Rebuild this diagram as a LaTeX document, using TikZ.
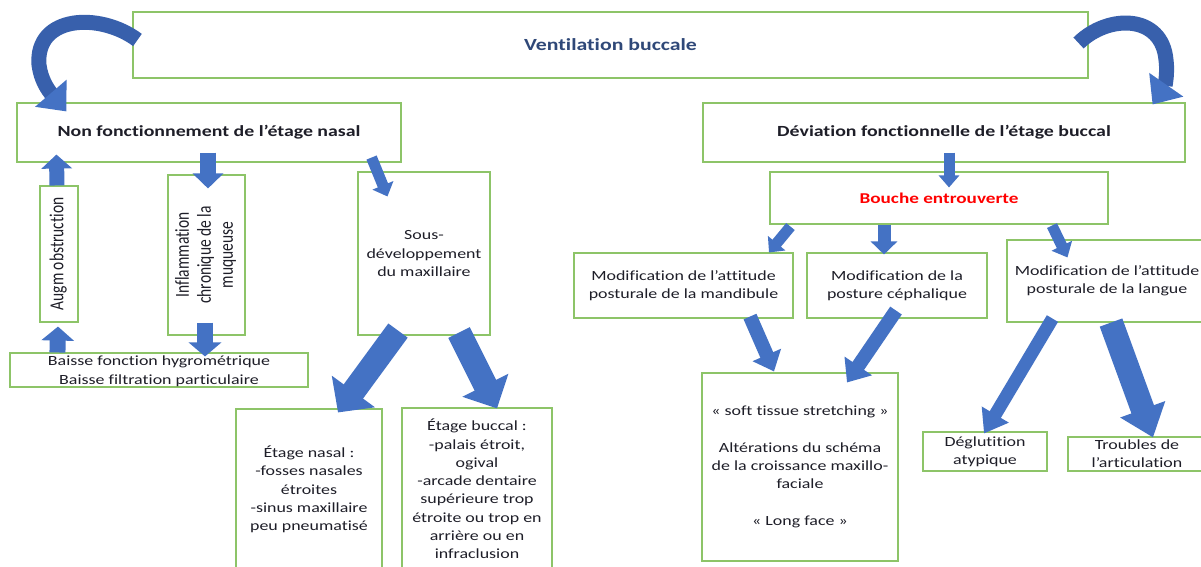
\documentclass[tikz,border=0pt]{standalone}
\usepackage{fontspec}
\setmainfont{Carlito}[FakeStretch=1.28,Ligatures=NoCommon]
\newfontfamily\rotfont{Carlito}[Ligatures=NoCommon]
\usepackage{graphicx}
\usetikzlibrary{arrows.meta,calc}
\definecolor{boxgreen}{RGB}{141,196,104}
\definecolor{arrowblue}{RGB}{68,114,196}
\definecolor{arrowmid}{RGB}{56,96,172}
\definecolor{txt}{RGB}{30,30,40}
\definecolor{titleblue}{RGB}{47,72,120}
\definecolor{redtxt}{RGB}{255,0,0}
\newcommand{\rottext}[1]{\scalebox{1.28}[1]{\rotatebox{90}{\rotfont\fontsize{15.5}{17.2}\selectfont\begin{tabular}{@{}c@{}}#1\end{tabular}}}}
\tikzset{
  box/.style={draw=boxgreen, line width=1.1pt, inner sep=0pt, align=center,
    font=\fontsize{14}{18.3}\selectfont, text=txt},
  bold/.style={font=\fontsize{15.5}{18}\selectfont\bfseries},
  blk/.style args={#1/#2/#3}{draw=arrowblue, line width=#1,
    -{Triangle[width=#2,length=#3]}},
  curv/.style={draw=arrowmid, line width=15pt,
    -{Triangle[width=40pt,length=24pt,color=arrowblue]}}
}
\begin{document}
\begin{tikzpicture}[x=1pt,y=-1pt]
\clip (0,0) rectangle (1201,566);
\fill[white] (0,0) rectangle (1201,566);
% nodes
\node[box, minimum width=955pt, minimum height=66pt, font=\fontsize{17}{18}\selectfont\bfseries, text=titleblue] (vb) at (610.5,45) {Ventilation buccale};
\node[box, bold, minimum width=384pt, minimum height=59pt] (nf) at (209,132.5) {Non fonctionnement de l’étage nasal};
\node[box, bold, minimum width=482pt, minimum height=59pt] (df) at (944,132.5) {Déviation fonctionnelle de l’étage buccal};
\node[box, minimum width=38pt, minimum height=136pt] (ao) at (59,254) {\rottext{Augm obstruction}};
\node[box, minimum width=77pt, minimum height=160pt] (inf) at (206.5,255) {\rottext{Inflammation\\chronique de la\\muqueuse}};
\node[box, minimum width=298pt, minimum height=34pt] (bs) at (159,370) {\raisebox{-5pt}[0pt][0pt]{\begin{tabular}{@{}c@{}}Baisse fonction hygrométrique\\Baisse filtration particulaire\end{tabular}}};
\node[box, minimum width=132pt, minimum height=163pt] (sd) at (424,253.5) {Sous-\\développement\\du maxillaire};
\node[box, minimum width=146pt, minimum height=161pt] (en) at (309,489.5) {Étage nasal :\\-fosses nasales\\étroites\\-sinus maxillaire\\peu pneumatisé};
\node[box, minimum width=150pt, minimum height=162pt] (eb) at (477,489) {Étage buccal :\\-palais étroit,\\ogival\\-arcade dentaire\\supérieure trop\\étroite ou trop en\\arrière ou en\\infraclusion};
\node[box, minimum width=338pt, minimum height=52pt, font=\fontsize{15}{18}\selectfont\bfseries, text=redtxt] (bo) at (939,198) {Bouche entrouverte};
\node[box, minimum width=219pt, minimum height=65pt] (mm) at (683.5,285.5) {Modification de l’attitude\\posturale de la mandibule};
\node[box, minimum width=180pt, minimum height=65pt] (mc) at (897,285.5) {Modification de la\\posture céphalique};
\node[box, minimum width=200pt, minimum height=82pt] (ml) at (1107,281) {Modification de l’attitude\\posturale de la langue};
\node[box, minimum width=196pt, minimum height=188pt] (st) at (800,467) {« soft tissue stretching »\\[18.3pt]Altérations du schéma\\de la croissance maxillo-\\faciale\\[18.3pt]« Long face »};
\node[box, minimum width=124pt, minimum height=39pt] (dg) at (985,451.5) {Déglutition\\atypique};
\node[box, minimum width=138pt, minimum height=34pt] (tr) at (1137,454) {Troubles de\\l’articulation};
% curved arrows
\draw[curv] ($(vb.west)+(5,-5)$) .. controls (100,12) and (35,15) .. (39,65) .. controls (41,80) and (48,90) .. ($(nf.north west)+(50,9)$);
\draw[curv] ($(vb.east)+(-10,-2)$) .. controls (1108,14) and (1162,14) .. (1166,60) .. controls (1168,76) and (1164,88) .. ($(df.north east)+(-33,2)$);
% straight block arrows
\draw[blk=15pt/30pt/14pt] (ao.north -| 57,0) -- ($(nf.south west)+(40,-8)$);
\draw[blk=16pt/32pt/14pt] ($(bs.north west)+(48,0)$) -- ($(ao.south)+(-1,4)$);
\draw[blk=16pt/30pt/15pt] ($(nf.south)+(-1,-10)$) -- ($(inf.north)+(1.5,14)$);
\draw[blk=16pt/32pt/14pt] ($(inf.south)+(-1.5,-13)$) -- ($(bs.north)+(46,4)$);
\draw[blk=11pt/22pt/12pt] ($(nf.south east)+(-30,-5)$) -- ($(sd.north west)+(30,25)$);
\draw[blk=24pt/52pt/26pt] ($(sd.south)+(-26,-5)$) -- ($(en.north)+(29,4)$);
\draw[blk=24pt/50pt/26pt] ($(sd.south)+(35,-3)$) -- ($(eb.north)+(20,1)$);
\draw[blk=11pt/20pt/12pt] ($(df.south)+(5,-10)$) -- ($(bo.north)+(10,16)$);
\draw[blk=11pt/22pt/12pt] ($(bo.south west)+(21,2)$) -- ($(mm.north)+(85.5,0)$);
\draw[blk=13pt/26pt/13pt] ($(bo.south)+(-55,0)$) -- ($(mc.north)+(-13,2)$);
\draw[blk=11pt/22pt/13pt] ($(bo.south)+(113,1)$) -- ($(ml.north west)+(61,18)$);
\draw[blk=14pt/30pt/18pt] ($(mm.south)+(66.5,-2)$) -- ($(st.north)+(-26,-1)$);
\draw[blk=14pt/32pt/20pt] ($(mc.south)+(-1,-8)$) -- ($(st.north)+(47,10)$);
\draw[blk=13pt/30pt/22pt] ($(ml.south west)+(46,-4)$) -- ($(dg.north)+(-1,2)$);
\draw[blk=24pt/46pt/30pt] ($(ml.south)+(4,0)$) -- ($(tr.north)+(16,1)$);
\end{tikzpicture}
\end{document}
